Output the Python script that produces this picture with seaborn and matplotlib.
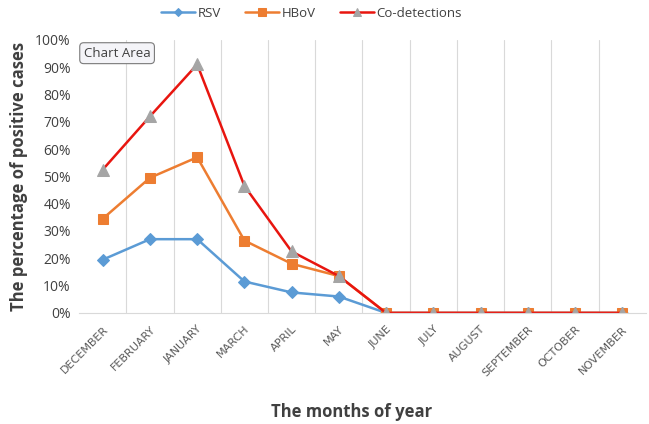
import numpy as np
import pandas as pd
import matplotlib
matplotlib.use("Agg")
import matplotlib.pyplot as plt
import seaborn as sns

months = ["DECEMBER", "FEBRUARY", "JANUARY", "MARCH", "APRIL", "MAY", "JUNE",
          "JULY", "AUGUST", "SEPTEMBER", "OCTOBER", "NOVEMBER"]
rsv = [19.5, 27, 27, 11.5, 7.5, 6, 0, 0, 0, 0, 0, 0]
hbov = [34.5, 49.5, 57, 26.5, 18, 13.5, 0, 0, 0, 0, 0, 0]
codet = [52.5, 72, 91, 46.5, 22.5, 13.5, 0, 0, 0, 0, 0, 0]
yticks = [0, 10, 20, 30, 40, 50, 60, 70, 80, 90, 100]

sns.set_style("white")
plt.rcParams["font.family"] = ["Open Sans", "DejaVu Sans"]

fig = plt.figure(figsize=(6.49, 4.24), dpi=100)
ax = fig.add_axes([0.122, 0.262, 0.873, 0.644])

x = np.arange(len(months))
series = [
    ("RSV", rsv, "#5B9BD5", "#5B9BD5", "D", 6),
    ("HBoV", hbov, "#ED7D31", "#ED7D31", "s", 7),
    ("Co-detections", codet, "#E8150F", "#A5A5A5", "^", 8),
]
for name, vals, lc, mc, mk, ms in series:
    sns.lineplot(x=x, y=vals, ax=ax, color=lc, linewidth=1.8, marker=mk,
                 markersize=ms, markerfacecolor=mc, markeredgecolor=mc,
                 label=name, sort=False)

ax.set_xlim(-0.5, len(months) - 0.5)
ax.set_ylim(0, 100)
ax.set_yticks(yticks)
ax.set_yticklabels([f"{v}%" for v in yticks], fontsize=10, color="#404040")
ax.set_xticks(x)
ax.set_xticklabels(months, rotation=45, ha="right", rotation_mode="anchor",
                   fontsize=8, color="#595959", family="DejaVu Sans")
ax.tick_params(axis="both", length=0)
ax.tick_params(axis="y", pad=6)
ax.tick_params(axis="x", pad=8)

# vertical gridlines between categories
for b in np.arange(0.5, len(months) - 0.5, 1):
    ax.axvline(b, color="#D9D9D9", linewidth=0.8, zorder=0)
for s in ["top", "right", "left"]:
    ax.spines[s].set_visible(False)
ax.spines["bottom"].set_color("#D9D9D9")

ax.set_ylabel("The percentage of positive cases", fontsize=12,
              fontweight="bold", color="#404040", labelpad=5)
ax.set_xlabel("The months of year", fontsize=12, fontweight="bold",
              color="#404040", labelpad=10)
ax.xaxis.set_label_coords(0.48, -0.33)

leg = ax.legend(loc="upper center", bbox_to_anchor=(0.41, 1.165), ncol=3,
                frameon=False, fontsize=9.5, handlelength=2.6,
                columnspacing=1.8, handletextpad=0.2, markerscale=0.75)
for t in leg.get_texts():
    t.set_color("#404040")

ax.text(0.008, 0.975, "Chart Area", transform=ax.transAxes, fontsize=9.5,
        color="#404040", va="top", ha="left",
        bbox=dict(boxstyle="round,pad=0.3", facecolor="#F4F4F8",
                  edgecolor="#7A7A7A", linewidth=0.8))

fig.savefig("out.png", dpi=100)
